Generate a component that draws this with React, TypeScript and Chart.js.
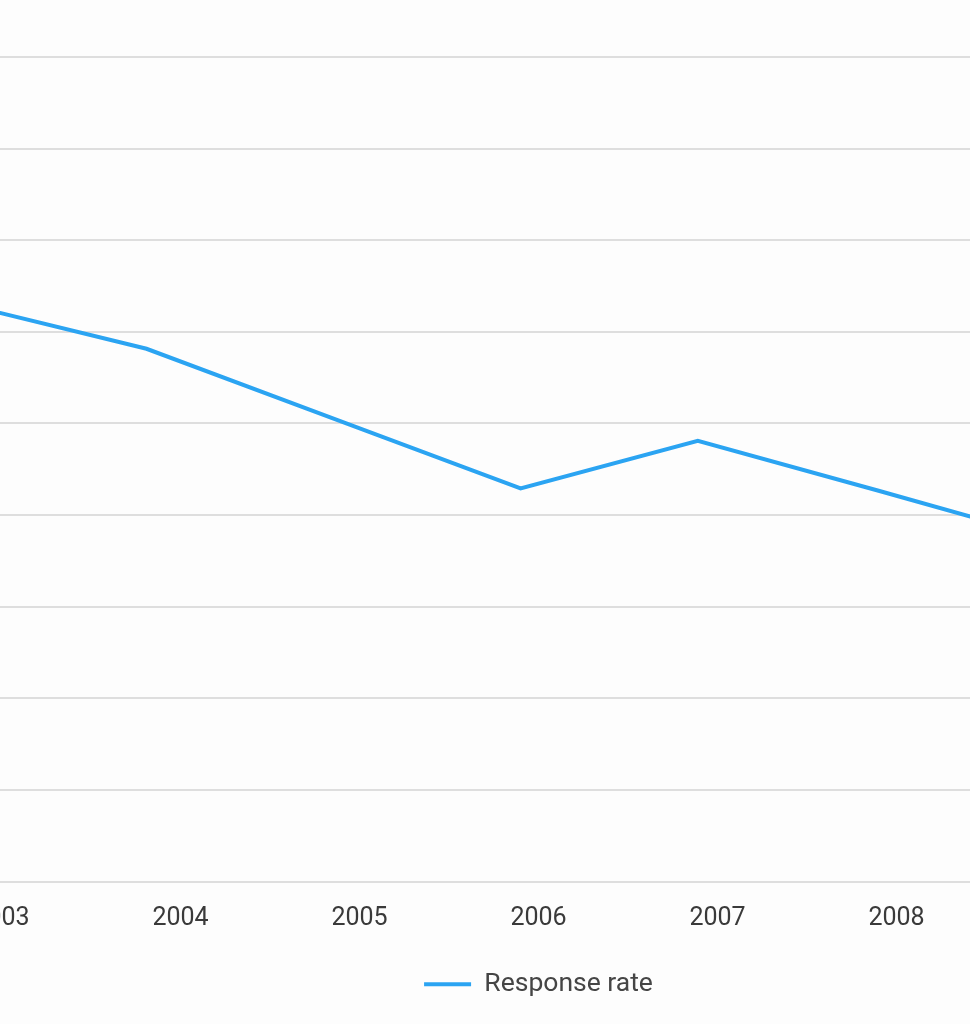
import React, { useEffect, useRef } from "react";
import { Chart, registerables } from "chart.js";

Chart.register(...registerables);

// Data (fractional year positions of the points)
const pointYears: number[] = [2002.9, 2003.81, 2004.9, 2005.9, 2006.89, 2007.9, 2008.9];
const responseRate: number[] = [62.5, 58.15, 50.2, 42.9, 48.1, 42.65, 37.15];
const tickYears: number[] = [2003, 2004, 2005, 2006, 2007, 2008, 2009];
const seriesLabel = "Response rate";

const FONT = "Roboto, 'Noto Sans', sans-serif";

export default function App() {
  const ref = useRef<HTMLCanvasElement | null>(null);

  useEffect(() => {
    if (!ref.current) return;
    const chart = new Chart(ref.current, {
      type: "line",
      data: {
        datasets: [
          {
            label: seriesLabel,
            data: pointYears.map((x, i) => ({ x, y: responseRate[i] })),
            borderColor: "#2ba4f2",
            backgroundColor: "#2ba4f2",
            borderWidth: 4,
            pointRadius: 0,
            pointHoverRadius: 0,
            tension: 0,
            pointStyle: "line",
          },
        ],
      },
      options: {
        animation: false,
        responsive: false,
        maintainAspectRatio: false,
        layout: { padding: { top: 57, bottom: 16.5, left: 0, right: 0 } },
        plugins: {
          tooltip: { enabled: false },
          legend: {
            display: true,
            position: "bottom",
            labels: {
              usePointStyle: true,
              pointStyleWidth: 47,
              color: "#454545",
              font: { family: FONT, size: 26.5 },
              padding: 10,
            },
          },
        },
        scales: {
          x: {
            type: "linear",
            min: 2002.5,
            max: 2009.5,
            grid: { display: false, drawTicks: false },
            border: { display: false },
            afterBuildTicks: (s: any) => {
              s.ticks = tickYears.map((v) => ({ value: v }));
            },
            afterFit: (s: any) => {
              s.height = 79.5;
            },
            ticks: {
              autoSkip: false,
              maxRotation: 0,
              padding: 22,
              color: "#3a3a3a",
              font: { family: FONT, size: 25 },
              callback: (v: any) => String(v),
            },
          },
          y: {
            min: 0,
            max: 90,
            grid: { color: "#dedede", lineWidth: 2, drawTicks: false },
            border: { display: false },
            ticks: { display: false, stepSize: 10 },
          },
        },
      },
    });
    return () => chart.destroy();
  }, []);

  return (
    <div
      style={{
        position: "fixed",
        left: 0,
        top: 0,
        width: 970,
        height: 1024,
        overflow: "hidden",
        background: "#fdfdfd",
      }}
    >
      <canvas
        ref={ref}
        width={1253}
        height={1024}
        style={{ position: "absolute", left: -88.5, top: 0, width: 1253, height: 1024 }}
      />
    </div>
  );
}
